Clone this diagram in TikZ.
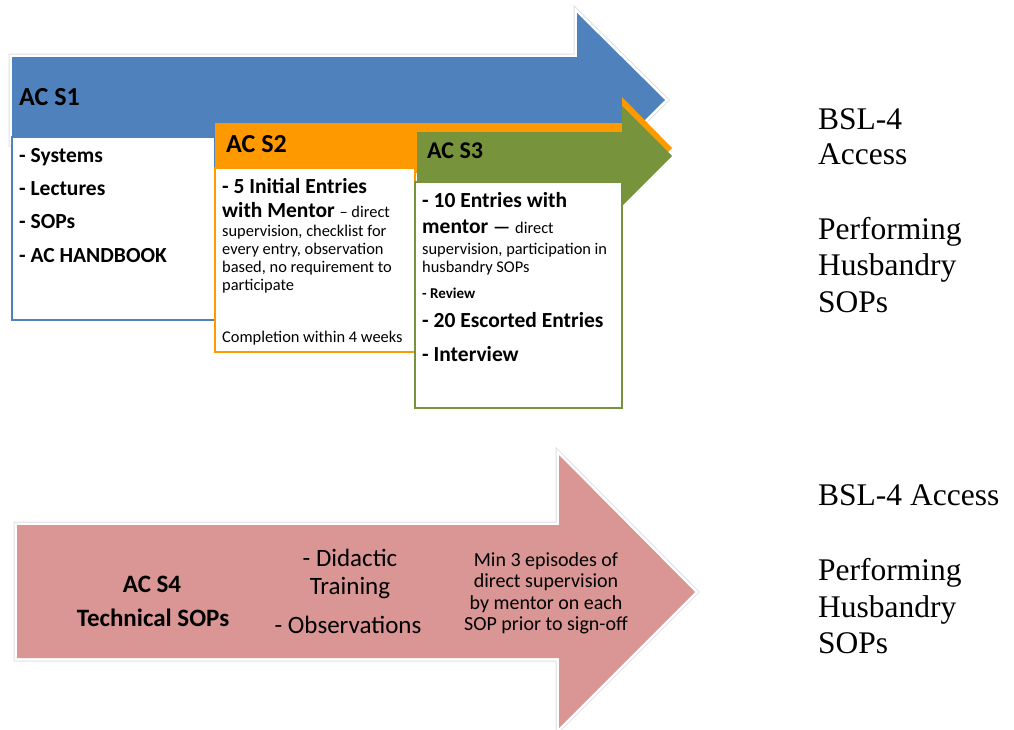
\documentclass[tikz,border=0pt]{standalone}
\usepackage{fontspec}
\setmainfont{Liberation Serif}
\newfontfamily\bodysans{Carlito}
\newcommand\fsz[2]{\fontsize{#1}{#2}\selectfont}

\definecolor{stageblue}{HTML}{4F81BD}
\definecolor{stageorange}{HTML}{FF9900}
\definecolor{stagegreen}{HTML}{77933C}
\definecolor{stagepink}{HTML}{D99694}

\tikzset{
  sans/.style={inner sep=0pt, anchor=base west, font=\bodysans\fsz{#1}{#1}},
  sansb/.style={inner sep=0pt, anchor=base west, font=\bodysans\bfseries\fsz{#1}{#1}},
  sansc/.style={inner sep=0pt, anchor=base, font=\bodysans\fsz{#1}{#1}},
  sansbc/.style={inner sep=0pt, anchor=base, font=\bodysans\bfseries\fsz{#1}{#1}},
  serifline/.style={inner sep=0pt, anchor=base west, font=\fsz{31.5}{36}},
  stagebox/.style={fill=white, draw=#1, line width=2pt},
  haloouter/.style={draw=black!12, line width=7pt, line join=miter},
  haloinner/.style={draw=white, line width=5pt, line join=miter},
}

\begin{document}
\begin{tikzpicture}[x=1pt,y=-1pt]
\useasboundingbox (0,0) rectangle (1014,729);

% ---------- stage 1 arrow (blue) ----------
\def\blueshape{(12,57) -- (577,57) -- (577,13) -- (665,100) -- (577,187) -- (577,143) -- (12,143) -- cycle}
\draw[haloouter] \blueshape;
\draw[haloinner] \blueshape;
\fill[stageblue] \blueshape;
\draw[stagebox=stageblue] (12,137) rectangle (215,320);

% ---------- stage 2 arrow (orange) ----------
\fill[stageorange] (215,123) -- (622,123) -- (622,97) -- (672,148) -- (622,199) -- (622,173) -- (215,173) -- cycle;
\draw[stagebox=stageorange] (215,168) rectangle (415,352);

% ---------- stage 3 arrow (green) ----------
\fill[stagegreen] (417,132) -- (622,132) -- (622,106) -- (672,156) -- (622,206) -- (622,184) -- (417,184) -- cycle;
\draw[stagebox=stagegreen] (415,182) rectangle (622,408);

% ---------- stage 4 arrow (pink) ----------
\def\pinkshape{(17,525) -- (559,525) -- (559,455) -- (695,592) -- (559,728) -- (559,658) -- (17,658) -- cycle}
\draw[haloouter] \pinkshape;
\draw[haloinner] \pinkshape;
\fill[stagepink] \pinkshape;

% ---------- stage 1 text ----------
\node[sansb=26] (s1title) at (19,105.5) {AC S1};
\node[sansb=21.5] (s1a) at (19,162) {- Systems};
\node[sansb=21.5] (s1b) at (19,195) {- Lectures};
\node[sansb=21.5] (s1c) at (19,228) {- SOPs};
\node[sansb=21.5] (s1d) at (19,262) {- AC HANDBOOK};

% ---------- stage 2 text ----------
\node[sansb=26] (s2title) at (226,152) {AC S2};
\node[sansb=21.5] (s2a) at (222,193) {- 5 Initial Entries};
\node[sansb=21.5] (s2b) at (222,217) {with Mentor {\mdseries\fsz{16.4}{18}– direct}};
\node[sans=16.4] (s2c) at (222,236) {supervision, checklist for};
\node[sans=16.4] (s2d) at (222,254) {every entry, observation};
\node[sans=16.4] (s2e) at (222,272) {based, no requirement to};
\node[sans=16.4] (s2f) at (222,290) {participate};
\node[sans=16.4] (s2g) at (222,342) {Completion within 4 weeks};

% ---------- stage 3 text ----------
\node[sansb=24] (s3title) at (427,158) {AC S3};
\node[sansb=21.5] (s3a) at (422,207) {- 10 Entries with};
\node[sansb=21.5] (s3b) at (422,233) {mentor {\fsz{19}{19}—} {\mdseries\fsz{16.4}{18}direct}};
\node[sans=16.4] (s3c) at (422,254) {supervision, participation in};
\node[sans=16.4] (s3d) at (422,272) {husbandry SOPs};
\node[sansb=15] (s3e) at (422,298) {- Review};
\node[sansb=21.5] (s3f) at (422,327) {- 20 Escorted Entries};
\node[sansb=21.5] (s3g) at (422,361) {- Interview};

% ---------- stage 4 text ----------
\node[sansbc=25] (s4title) at (152,592) {AC S4};
\node[sansbc=25] (s4sub) at (153,626) {Technical SOPs};
\node[sansc=25] (s4a) at (350,566) {- Didactic};
\node[sansc=25] (s4b) at (350,594) {Training};
\node[sansc=25] (s4c) at (348,633) {- Observations};
\node[sansc=20] (s4d) at (546,566) {Min 3 episodes of};
\node[sansc=20] (s4e) at (546,587.5) {direct supervision};
\node[sansc=20] (s4f) at (546,609) {by mentor on each};
\node[sansc=20] (s4g) at (546,630.5) {SOP prior to sign-off};

% ---------- outcomes ----------
\node[serifline] (o1) at (818,129) {BSL-4};
\node[serifline] (o2) at (818,164) {Access};
\node[serifline] (o3) at (818,239) {Performing};
\node[serifline] (o4) at (818,275) {Husbandry};
\node[serifline] (o5) at (818,312) {SOPs};

\node[serifline] (p1) at (818,505) {BSL-4 Access};
\node[serifline] (p2) at (818,580) {Performing};
\node[serifline] (p3) at (818,617) {Husbandry};
\node[serifline] (p4) at (818,653) {SOPs};
\end{tikzpicture}
\end{document}
